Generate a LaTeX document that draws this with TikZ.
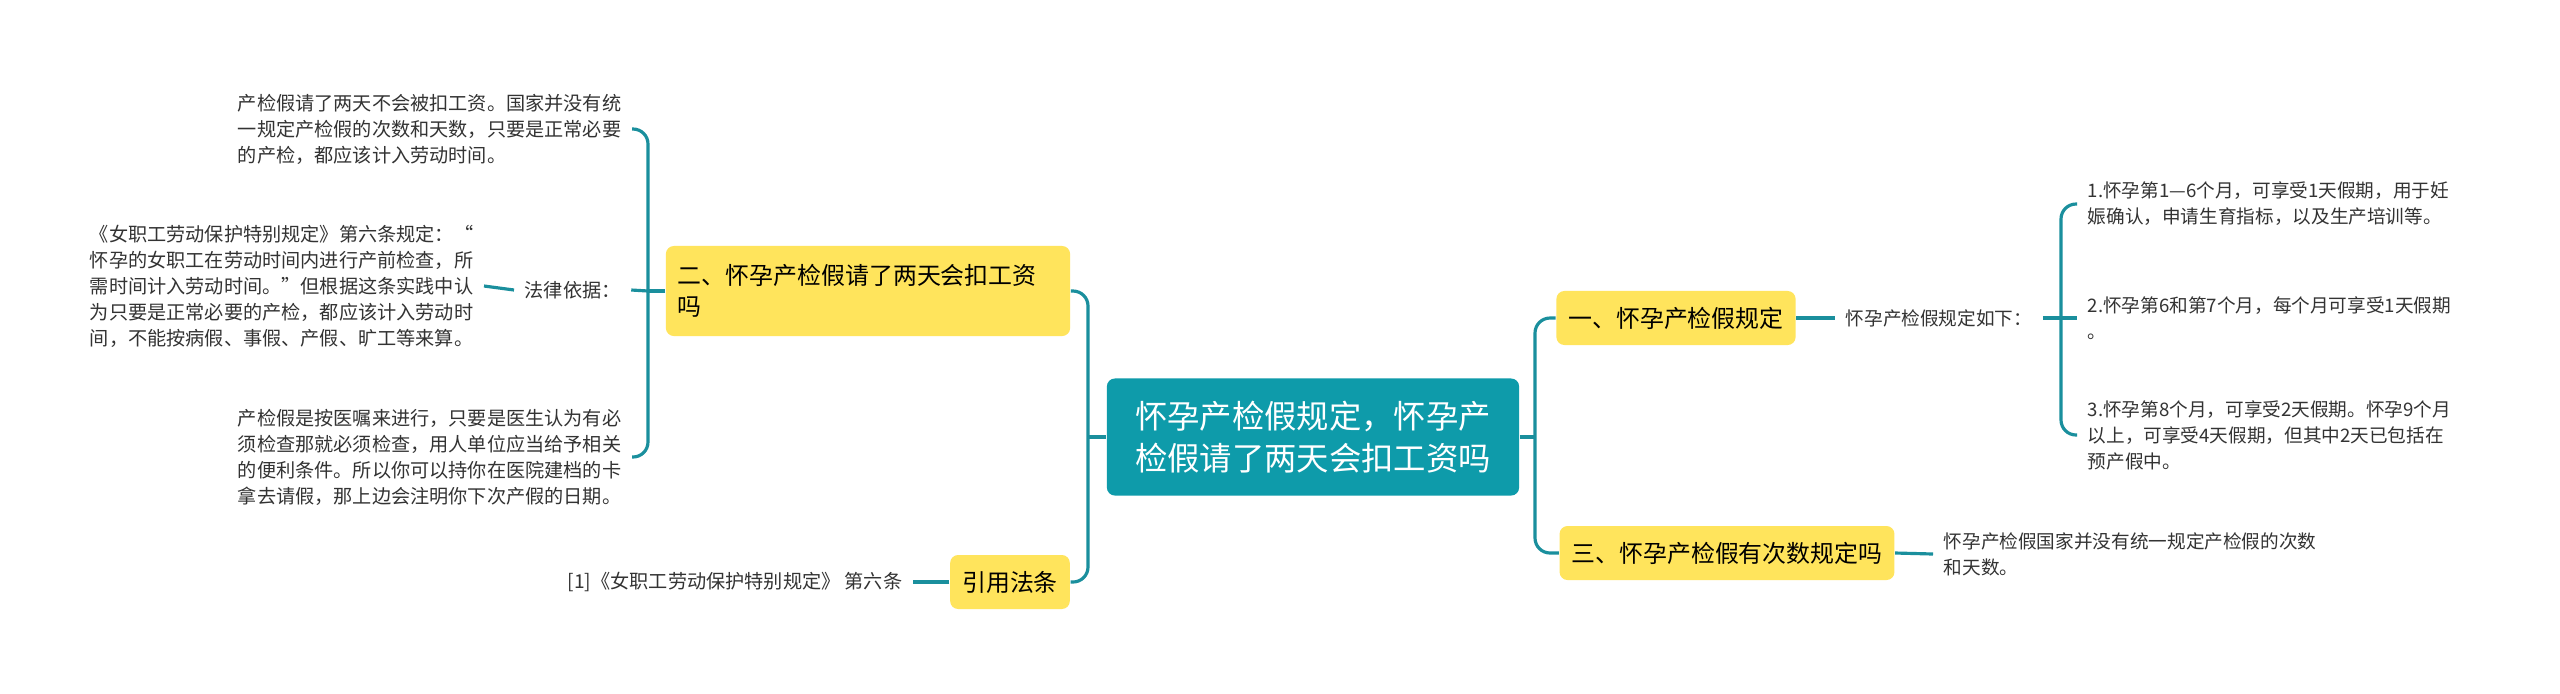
\documentclass[tikz,border=0pt]{standalone}
\usepackage{fontspec}
\setmainfont{Noto Sans CJK SC}

\tikzstyle{main-topic}=[rounded corners=0.08cm, fill={topic}, text=white, font=\fontsize{9.2pt}{12pt}\selectfont, align=center, minimum width=4.12cm, minimum height=1.17cm, inner sep=0pt]
\tikzstyle{sub-topic}=[rounded corners=0.08cm, fill={branch}, text=black, font=\fontsize{6.8pt}{8.8pt}\selectfont, align=left, inner xsep=0.12cm, minimum height=0.54cm]
\tikzstyle{leaf-text}=[text={leaf}, font=\fontsize{5.3pt}{7.4pt}\selectfont, align=left, inner xsep=0.1cm, inner ysep=0.05cm]
\tikzstyle{leaf-text-left}=[leaf-text, font=\fontsize{5.45pt}{7.4pt}\selectfont, anchor=east]
\tikzstyle{link}=[draw={connector}, line width=0.9pt, rounded corners=0.15cm]
\definecolor{topic}{HTML}{0E9BAA}
\definecolor{branch}{HTML}{FFE45C}
\definecolor{connector}{HTML}{1A8F9D}
\definecolor{leaf}{HTML}{333333}

\begin{document}
\begin{tikzpicture}[x=0.01cm, y=-0.01cm]
      \fill[white] (0,0) rectangle (2560,693);
      \useasboundingbox (0,0) rectangle (2560,693);

      % centre
      \node (main) at (1313, 437)
            [main-topic] {怀孕产检假规定，怀孕产\\检假请了两天会扣工资吗};

      % right side
      \node (rule) at (1676, 318)
            [sub-topic] {一、怀孕产检假规定};
      \node (count) at (1727, 553)
            [sub-topic] {三、怀孕产检假有次数规定吗};
      \node (rule-intro) at (1835, 318)
            [leaf-text, anchor=west] {怀孕产检假规定如下：};
      \node (rule1) at (2077, 204)
            [leaf-text, anchor=west] {1.怀孕第1—6个月，可享受1天假期，用于妊\\娠确认，申请生育指标，以及生产培训等。};
      \node (rule2) at (2077, 318)
            [leaf-text, anchor=west] {2.怀孕第6和第7个月，每个月可享受1天假期\\。};
      \node (rule3) at (2077, 435)
            [leaf-text, anchor=west] {3.怀孕第8个月，可享受2天假期。怀孕9个月\\以上，可享受4天假期，但其中2天已包括在\\预产假中。};
      \node (count-text) at (1933, 554)
            [leaf-text, anchor=west] {怀孕产检假国家并没有统一规定产检假的次数\\和天数。};
      \coordinate (right-trunk) at (1535, 437);
      \coordinate (rule-fork) at (2061, 318);

      % left side
      \node (wage) at (868, 291)
            [sub-topic, text width=3.8cm, minimum height=0.9cm] {二、怀孕产检假请了两天会扣工资\\吗};
      \node (cite) at (1010, 582)
            [sub-topic] {引用法条};
      \node (wage-a) at (632, 129)
            [leaf-text-left] {产检假请了两天不会被扣工资。国家并没有统\\一规定产检假的次数和天数，只要是正常必要\\的产检，都应该计入劳动时间。};
      \node (basis) at (514, 290)
            [leaf-text-left, anchor=west] {法律依据：};
      \node (basis-text) at (484, 286)
            [leaf-text-left] {《女职工劳动保护特别规定》第六条规定：“\\怀孕的女职工在劳动时间内进行产前检查，所\\需时间计入劳动时间。”但根据这条实践中认\\为只要是正常必要的产检，都应该计入劳动时\\间，不能按病假、事假、产假、旷工等来算。};
      \node (wage-b) at (632, 457)
            [leaf-text-left] {产检假是按医嘱来进行，只要是医生认为有必\\须检查那就必须检查，用人单位应当给予相关\\的便利条件。所以你可以持你在医院建档的卡\\拿去请假，那上边会注明你下次产假的日期。};
      \node (cite-text) at (913, 582)
            [leaf-text-left] {[1]《女职工劳动保护特别规定》 第六条};
      \coordinate (left-trunk) at (1088, 437);
      \coordinate (wage-fork) at (648, 291);

      % connectors
      \draw[link] (main.east) -- (right-trunk);
      \draw[link] (rule.west) -| (right-trunk) |- (count.west);
      \draw[link] (rule.east) -- (rule-intro.west);
      \draw[link] (rule-intro.east) -- (rule-fork);
      \draw[link] (rule1.west) -| (rule-fork) |- (rule3.west);
      \draw[link] (rule-fork) -- (rule2.west);
      \draw[link] (count.east) -- (count-text.west);
      \draw[link] (main.west) -- (left-trunk);
      \draw[link] (wage.east) -| (left-trunk) |- (cite.east);
      \draw[link] (wage.west) -- (wage-fork);
      \draw[link] (wage-a.east) -| (wage-fork) |- (wage-b.east);
      \draw[link] (wage-fork) -- (basis.east);
      \draw[link] (basis.west) -- (basis-text.east);
      \draw[link] (cite.west) -- (cite-text.east);
    \end{tikzpicture}
\end{document}
